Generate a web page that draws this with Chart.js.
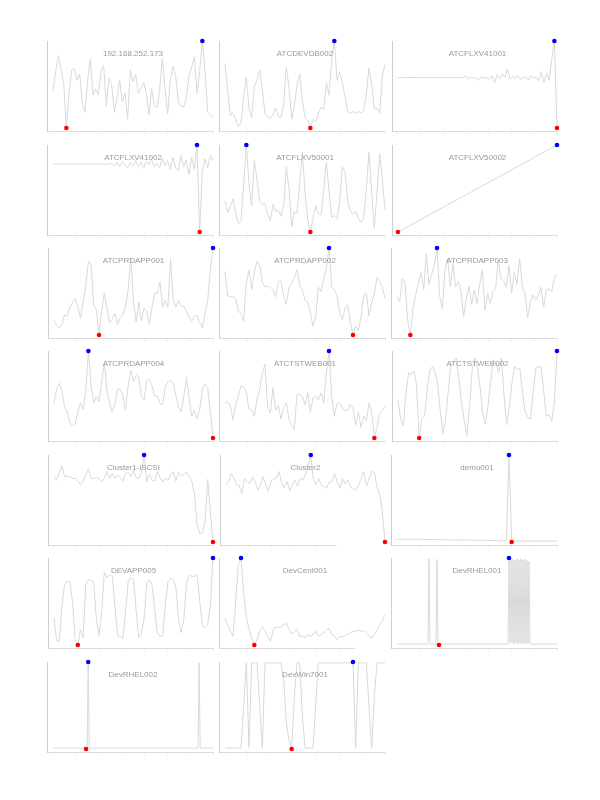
<!DOCTYPE html>
<html><head><meta charset="utf-8">
<script src="https://cdn.jsdelivr.net/npm/chart.js@4.4.0/dist/chart.umd.min.js"></script>
<style>
html,body{margin:0;padding:0;background:#fff;}
#wrap{position:relative;width:600px;height:800px;overflow:hidden;}
#wrap canvas{position:absolute;}
</style></head><body><div id="wrap"></div>
<script>
// ---------- DATA ----------
const hostNames = ['192.168.252.173','ATCDEVDB002','ATCFLXV41001','ATCFLXV41002','ATCFLXV50001','ATCFLXV50002',
  'ATCPRDAPP001','ATCPRDAPP002','ATCPRDAPP003','ATCPRDAPP004','ATCTSTWEB001','ATCTSTWEB002',
  'Cluster1-iSCSI','Cluster2','demo001','DEVAPP005','DevCent001','DevRHEL001','DevRHEL002','DevWin7001'];

const v192_168_252_173 = [42,65,83,68,52,0,40,67,68,55,62,28,18,55,80,38,45,38,65,72,25,57,50,18,35,55,30,40,10,67,53,62,40,46,53,40,15,45,26,23,45,80,45,16,55,71,60,30,25,24,35,60,70,82,40,65,100,65,18,15,13];
const vATCDEVDB002 = [74,42,15,17,10,2,6,36,58,22,12,48,55,67,44,17,13,11,15,23,13,12,28,70,46,10,25,50,62,32,12,9,0,10,7,17,24,21,52,38,78,100,55,65,52,36,19,17,19,17,19,17,20,40,69,50,22,23,17,60,73];
const vATCFLXV41001 = [58,58,58,58,58,58,58,58,58,58,58,58,58,58,58,58,58,58,58,58,58,58,58,58,58,58,
  60,56,59,57,58,55,59,57,58,56,60,52,61,57,62,58,68,56,59,57,60,56,58,59,55,60,57,59,54,65,52,63,55,79,100,0];
const vATCFLXV41002 = [78,78,78,78,78,78,78,78,78,78,78,78,78,78,78,78,78,78,78,78,78,78,
  79,76,80,75,81,77,74,80,76,82,75,80,73,81,77,84,75,79,74,85,76,82,72,86,74,70,88,75,83,66,86,72,100,0,70,84,74,88,82];
const vATCFLXV50001 = [36,22,30,38,22,10,12,55,100,55,30,82,60,36,32,32,20,13,32,24,25,18,30,75,50,6,23,22,55,92,45,15,0,16,30,21,20,48,80,48,17,19,15,35,75,70,36,24,21,24,15,11,16,50,92,45,5,45,90,60,25];
const vATCFLXV50002 = [0,100];
const vATCPRDAPP001 = [17,11,8,12,23,22,32,37,42,32,19,38,56,85,80,34,29,0,28,48,30,14,18,25,12,20,23,33,52,88,38,15,38,16,31,27,12,32,48,48,61,32,40,32,88,40,32,40,33,33,27,20,16,22,22,14,8,25,40,74,100];
const vATCPRDAPP002 = [73,45,44,44,42,27,25,15,60,75,52,72,85,80,60,55,56,55,52,44,61,62,45,35,55,59,66,75,57,52,40,38,27,10,20,55,50,65,76,100,55,52,45,25,18,30,35,15,0,10,5,20,46,48,22,37,48,66,62,55,42];
const vATCPRDAPP003 = [44,38,65,60,17,0,30,46,60,72,52,94,58,70,80,100,45,30,75,88,55,82,55,62,50,21,42,56,35,52,36,58,75,28,48,36,50,54,86,65,62,55,80,48,72,58,88,55,48,20,38,46,40,45,55,32,52,53,50,65,70];
const vATCPRDAPP004 = [40,56,63,55,36,30,18,14,16,30,40,33,55,100,60,40,48,42,64,86,55,40,30,40,56,56,50,32,60,78,65,72,70,48,44,66,68,60,48,48,40,38,58,65,66,63,48,36,30,48,70,45,25,32,22,33,56,62,58,30,0];
const vATCTSTWEB001 = [40,42,37,21,37,48,60,59,52,33,33,25,45,55,75,85,34,29,58,32,37,22,36,40,22,14,10,50,50,48,38,52,30,46,48,44,52,40,75,100,48,25,40,40,34,31,32,38,35,15,30,12,25,20,40,30,0,13,28,32,36];
const vATCTSTWEB002 = [44,22,14,50,75,73,77,62,0,22,25,55,78,82,76,62,30,5,22,55,86,88,92,67,40,20,3,35,79,92,80,58,28,16,38,66,90,86,75,92,50,15,35,63,82,79,80,52,30,24,22,53,80,82,82,53,25,27,19,40,100];
const vCluster1_iSCSI = [75,71,80,88,75,76,75,73,73,70,66,70,78,84,73,73,74,73,69,73,81,73,79,73,77,74,70,79,80,75,83,74,73,80,100,69,78,71,70,81,74,69,73,71,77,81,70,80,76,78,80,75,70,55,20,10,10,23,72,35,0];
const vCluster2 = [66,70,79,73,66,65,55,73,69,67,75,69,60,66,75,66,58,70,72,73,81,68,62,70,59,66,71,64,73,71,78,86,100,72,66,73,65,64,62,69,69,79,68,62,73,67,71,64,60,60,65,73,81,64,73,81,80,63,55,35,0];
const vdemo001 = [3,3,3,3,3,3,3,3,3,3,3,2.9,2.9,2.8,2.8,2.7,2.7,2.6,2.6,2.5,2.5,2.4,2.4,2.3,2.3,2.2,2.2,2.1,2.1,2,2,1.9,1.9,1.8,1.8,1.7,1.7,1.6,1.6,1.5,1.5,1.6,100,0,
  1.1,1.1,1.1,1.1,1.1,1.1,1.1,1.1,1.1,1.1,1.1,1.1,1.1,1.1,1.1,1.1,1.1];
const vDEVAPP005 = [31,5,4,45,69,73,73,50,6,0,18,8,70,75,74,72,30,11,38,84,77,81,79,45,11,10,8,38,73,78,75,40,8,14,30,70,75,69,40,14,10,10,45,73,77,75,66,30,14,30,70,80,79,79,81,50,22,20,23,46,100];
const vDevCent001 = [31,23,16,10,50,92,100,60,32,18,8,0,6,16,21,16,10,4,16,21,20,21,23,25,18,13,15,18,10,10,8,12,10,12,16,10,12,14,17,19,12,11,6,10,9,11,12,14,16,16,17,16,16,14,10,8,12,17,23,28,35];
const vDevRHEL001 = [
  1,1,1,1,1,1,1,1,1,1,1,1,1,1,1,1,1,1,1,1,1,1,1,1,1,1,1,1,1,1,1,1,
  99,1,1,1,1,1,1,1,98.5,1,0,
  1,1,1,1,1,1,1,1,1,1,1,1,1,1,1,1,1,1,1,1,1,1,1,1,1,1,1,1,1,1,1,1,1,1,1,1,1,1,1,1,1,1,1,1,1,1,1,1,1,1,1,1,1,1,1,1,1,1,1,1,1,1,1,1,1,1,1,1,1,
  100,2,98,3,99,1,97,2,99,1,98,2,99,1,98,2,99,1,97,2,96,
  1,1,1,1,1,1,1,1,1,1,1,1,1,1,1,1,1,1,1,1,1,1,1,1,1,1,1,1];
const vDevRHEL002 = [
  1,1,1,1,1,1,1,1,1,1,1,1,1,1,1,1,1,1,1,1,1,1,1,1,1,1,1,1,1,1,1,
  0,1,100,
  1,1,1,1,1,1,1,1,1,1,1,1,1,1,1,1,1,1,1,1,1,1,1,1,1,1,1,1,1,1,1,1,1,1,1,1,1,1,1,1,1,1,1,1,1,1,1,1,1,1,1,1,1,1,1,1,1,
  1,1,1,1,1,1,1,1,1,1,1,1,1,1,1,1,1,1,1,1,1,1,1,1,1,1,1,1,1,1,1,1,1,1,1,1,1,1,1,1,1,1,1,1,1,1,
  99,1,1,1,1,1,1,1,1,1,1,1,1,1];
const vDevWin7001 = [1,1,1,1,1,1,1,50,99,2,99,99,99,50,1,99,99,99,99,99,99,99,80,30,10,0,60,99,99,40,1,1,1,1,50,
  99,99,99,99,99,99,99,99,99,99,99,99,99,100,1,99,99,99,99,50,1,60,99,99,99,99];

const seriesValues = [v192_168_252_173,vATCDEVDB002,vATCFLXV41001,vATCFLXV41002,vATCFLXV50001,vATCFLXV50002,
  vATCPRDAPP001,vATCPRDAPP002,vATCPRDAPP003,vATCPRDAPP004,vATCTSTWEB001,vATCTSTWEB002,
  vCluster1_iSCSI,vCluster2,vdemo001,vDEVAPP005,vDevCent001,vDevRHEL001,vDevRHEL002,vDevWin7001];

// ---------- LAYOUT ----------
const COL_AXIS_X = [47, 219, 391];
const ROW_TOP = [41, 145, 248, 351, 455, 558, 662];
const DATA_OFFSET = 6, DATA_SPAN = 160, PLOT_H = 87, AXIS_GAP = 3, FULL_AXIS = 166;
const SHORT_AXIS = { 'Cluster2': 117, 'DevCent001': 136 };
const PAD_L = 3, PAD_T = 6, CANVAS_W = 176, CANVAS_H = 108, XAXIS_H = 4;
const AXIS_X_COLOR = '#dcdcdc';

const panelTitle = {
  id: 'panelTitle',
  afterDatasetsDraw(chart, args, opts) {
    const ctx = chart.ctx, xs = chart.scales.x;
    const cx = (xs.getPixelForValue(0) + xs.getPixelForValue(opts.n - 1)) / 2;
    ctx.save();
    ctx.font = '8px "Liberation Sans", Arial, sans-serif';
    ctx.fillStyle = '#999';
    ctx.textAlign = 'center';
    ctx.textBaseline = 'middle';
    ctx.fillText(opts.text, cx, chart.chartArea.top + 13);
    ctx.restore();
  }
};
// x-axis baseline that stops at the end of the axis domain (shorter than the data on two panels)
const shortBaseline = {
  id: 'shortBaseline',
  afterDraw(chart, args, opts) {
    if (opts.end == null) return;
    const ctx = chart.ctx, xs = chart.scales.x;
    const y = Math.round(chart.chartArea.bottom) + 0.5;
    ctx.save();
    ctx.strokeStyle = AXIS_X_COLOR; ctx.lineWidth = 1;
    ctx.beginPath();
    ctx.moveTo(chart.chartArea.left, y);
    ctx.lineTo(xs.getPixelForValue(opts.end), y);
    ctx.stroke();
    ctx.restore();
  }
};

const wrap = document.getElementById('wrap');
hostNames.forEach((name, i) => {
  const vals = seriesValues[i];
  const n = vals.length;
  const col = i % 3, row = Math.floor(i / 3);
  const cv = document.createElement('canvas');
  cv.width = CANVAS_W; cv.height = CANVAS_H;
  cv.style.left = (COL_AXIS_X[col] - PAD_L) + 'px';
  cv.style.top = (ROW_TOP[row] - PAD_T) + 'px';
  wrap.appendChild(cv);

  const isShort = SHORT_AXIS[name] != null;
  const ppu = DATA_SPAN / (n - 1);
  const vmin = Math.min(...vals), vmax = Math.max(...vals);
  const iMin = vals.indexOf(vmin), iMax = vals.indexOf(vmax);
  const range = vmax - vmin;
  const xMin = -DATA_OFFSET / ppu;
  const xMax = (FULL_AXIS - DATA_OFFSET) / ppu;
  const axisEnd = isShort ? (SHORT_AXIS[name] - DATA_OFFSET) / ppu : null;
  const tickLimit = isShort ? axisEnd : xMax;

  new Chart(cv, {
    type: 'line',
    data: { datasets: [{
      data: vals.map((v, k) => ({ x: k, y: v })),
      borderColor: '#d9d9d9', borderWidth: 1, tension: 0, clip: false,
      pointRadius: c => (c.dataIndex === iMax || c.dataIndex === iMin) ? 2.3 : 0,
      pointBackgroundColor: c => c.dataIndex === iMax ? '#0000ff' : '#ff0000',
      pointBorderWidth: 0
    }]},
    options: {
      responsive: false, animation: false, events: [],
      layout: { padding: { left: PAD_L, top: PAD_T, right: CANVAS_W - PAD_L - FULL_AXIS, bottom: CANVAS_H - PAD_T - PLOT_H - AXIS_GAP - XAXIS_H } },
      plugins: { legend: { display: false }, tooltip: { enabled: false }, title: { display: false },
        panelTitle: { text: name, n: n }, shortBaseline: { end: axisEnd } },
      scales: {
        x: { type: 'linear', min: xMin, max: xMax,
          afterBuildTicks: s => { const t = []; for (let j = 0; j <= 7; j++) { const v = j * (n - 1) / 7; if (v <= tickLimit + 1e-9) t.push({ value: v }); } s.ticks = t; },
          afterFit: s => { s.height = XAXIS_H; },
          ticks: { display: false },
          grid: { display: true, drawOnChartArea: false, drawTicks: true, tickLength: 3, color: '#ececec' },
          border: { display: !isShort, color: AXIS_X_COLOR, width: 1 } },
        y: { type: 'linear', min: vmin - range * AXIS_GAP / PLOT_H, max: vmax,
          afterFit: s => { s.width = 0; },
          ticks: { display: false },
          grid: { display: false },
          border: { display: true, color: '#cfcfcf', width: 1 } }
      }
    },
    plugins: [panelTitle, shortBaseline]
  });
});
</script></body></html>
